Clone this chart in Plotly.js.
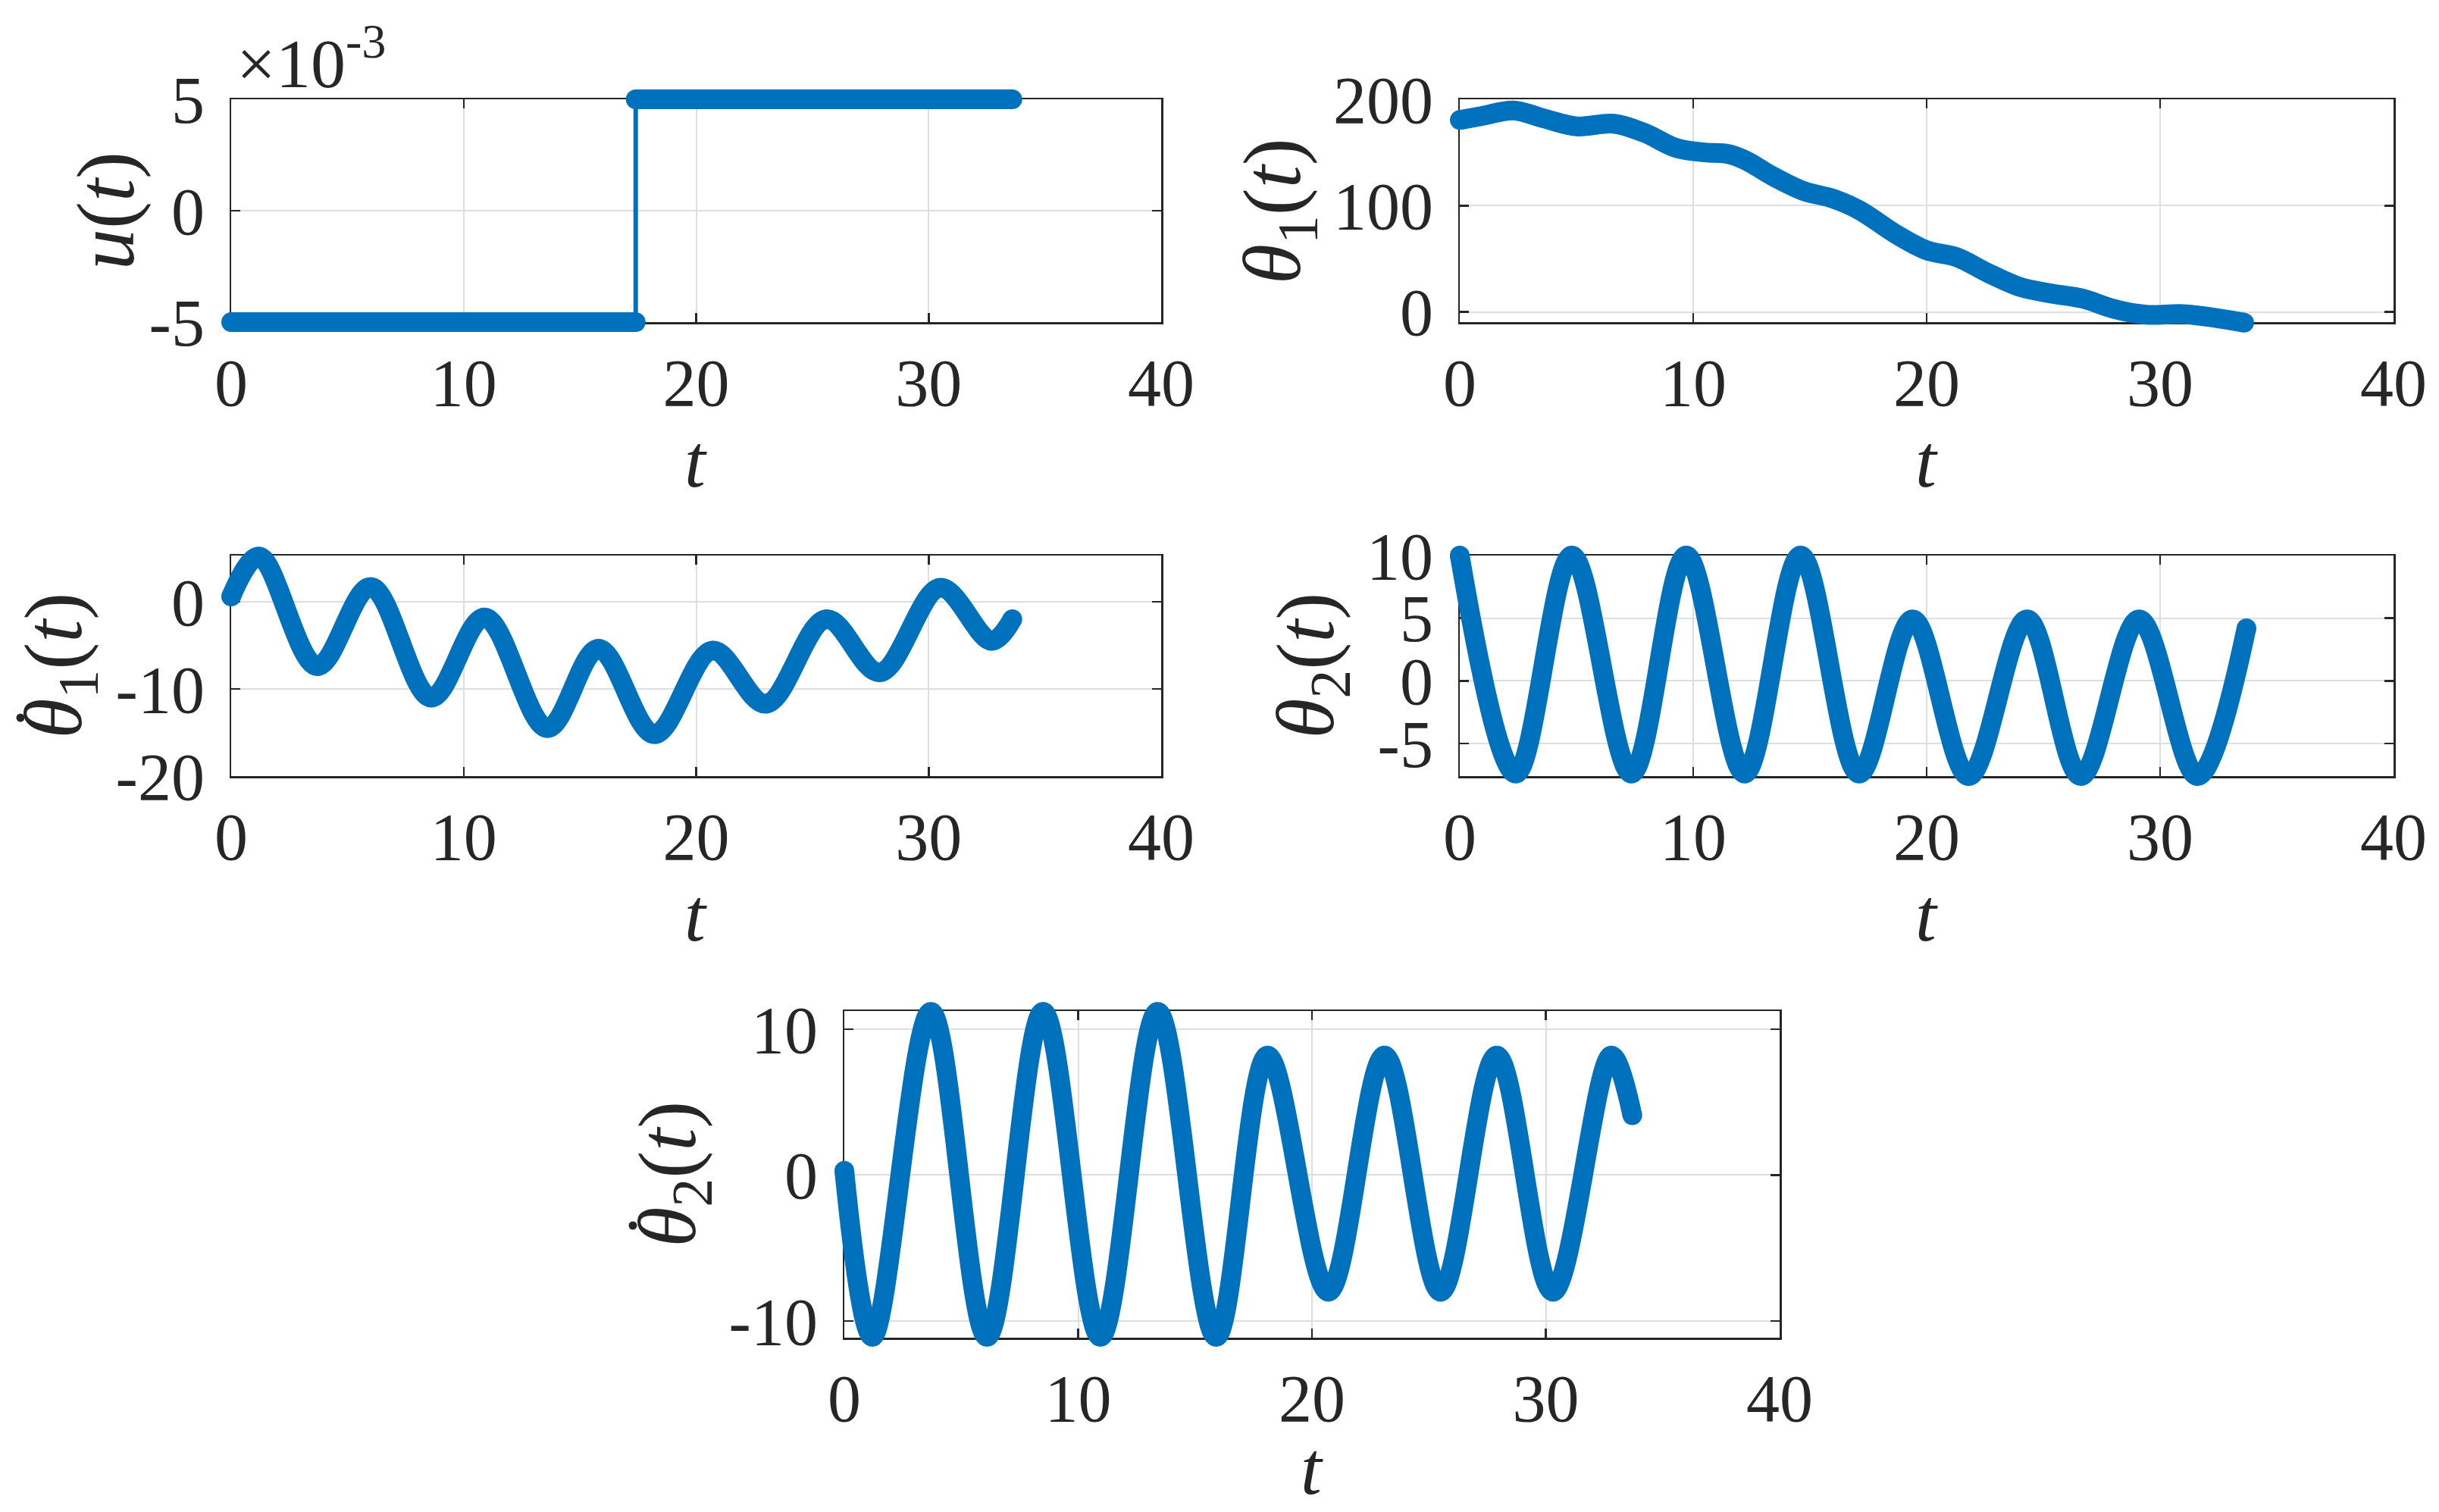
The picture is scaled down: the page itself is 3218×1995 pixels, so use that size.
<!DOCTYPE html>
<html><head><meta charset="utf-8">
<script src="https://cdn.plot.ly/plotly-3.0.1.min.js"></script>
<style>html,body{margin:0;padding:0;background:#fff;} #chart{width:3218px;height:1995px;}</style>
</head><body><div id="chart"></div>
<script>
// ---------------- data ----------------
const tU   = [0, 17.4, 17.4, 33.6];
const uVal = [-0.005, -0.005, 0.005, 0.005];

const tTheta1 = [0, 1, 2.3, 3.6, 5.0, 6.6, 7.9, 9.3, 10.5, 11.5, 12.3, 13.3, 14.7, 16.0, 17.1, 18.7, 20.0, 21.3, 22.6, 24.0, 25.3, 26.7, 28.0, 29.4, 31.0, 32.5, 33.6];
const theta1  = [180.5, 184.5, 189.5, 182, 174.5, 177, 168.5, 154, 150, 148.5, 142, 129, 114, 106.5, 96, 73, 58, 51.5, 37, 23.5, 17.5, 12.5, 3, -2.5, -2, -6, -10];

// start, successive peaks / troughs, end
const tDTheta1 = [0, 1.2, 3.7, 6.0, 8.6, 10.9, 13.6, 15.8, 18.2, 20.7, 23.0, 25.6, 27.9, 30.5, 32.7, 33.6];
const dTheta1  = [0.6, 5.2, -7.4, 1.7, -11.0, -1.8, -14.5, -5.4, -15.2, -5.6, -11.7, -2.0, -8.1, 1.6, -4.5, -2.0];

const tTheta2 = [0, 2.4, 4.8, 7.35, 9.7, 12.2, 14.6, 17.1, 19.4, 21.8, 24.3, 26.6, 29.1, 31.6, 33.7];
const theta2  = [10, -7.4, 10, -7.4, 10, -7.4, 10, -7.4, 4.9, -7.6, 4.9, -7.6, 4.9, -7.6, 4.2];

const tDTheta2 = [0, 1.2, 3.7, 6.1, 8.5, 10.95, 13.4, 15.9, 18.1, 20.7, 23.1, 25.5, 27.9, 30.3, 32.8, 33.7];
const dTheta2  = [0.3, -11.1, 11.2, -11.1, 11.2, -11.1, 11.2, -11.1, 8.2, -8.0, 8.2, -8.0, 8.2, -8.0, 8.2, 4.1];

// tick values / labels
const xTicks    = [0, 10, 20, 30, 40];
const xTickText = ['0', '10', '20', '30', '40'];
const uTicks    = [-0.005, 0, 0.005];   const uTickText    = ['-5', '0', '5'];
const th1Ticks  = [0, 100, 200];        const th1TickText  = ['0', '100', '200'];
const dth1Ticks = [-20, -10, 0];        const dth1TickText = ['-20', '-10', '0'];
const th2Ticks  = [-5, 0, 5, 10];       const th2TickText  = ['-5', '0', '5', '10'];
const dth2Ticks = [-10, 0, 10];         const dth2TickText = ['-10', '0', '10'];

const yLabels = ['<i>u</i>(<i>t</i>)', '<i>θ</i><sub>1</sub>(<i>t</i>)', '<i>θ</i><sub>1</sub>(<i>t</i>)', '<i>θ</i><sub>2</sub>(<i>t</i>)', '<i>θ</i><sub>2</sub>(<i>t</i>)'];
const xLabel = '<i>t</i>';
const expLabel = '×10<sup>-3</sup>';

// ---------------- layout / styling ----------------
const W = 3218, H = 1995;
const BLUE = '#0072BD';
const FONT = 'Liberation Serif, Times New Roman, serif';
const TXT = '#262626';

// pixel boxes [left, right, top, bottom]; ylx = y-label centre; dot = derivative dot centre
const panels = [
  {box: [305, 1532, 131, 425],   xr: [0, 40], yr: [-0.005, 0.005],  tv: uTicks,    tt: uTickText,    ylx: 140,  dot: null},
  {box: [1926, 3158, 131, 425],  xr: [0, 40], yr: [-9.5, 200],      tv: th1Ticks,  tt: th1TickText,  ylx: 1686, dot: null},
  {box: [305, 1532, 733, 1024],  xr: [0, 40], yr: [-20, 5.3],       tv: dth1Ticks, tt: dth1TickText, ylx: 78,   dot: [27, 947]},
  {box: [1926, 3158, 733, 1024], xr: [0, 40], yr: [-7.6, 10],       tv: th2Ticks,  tt: th2TickText,  ylx: 1730, dot: null},
  {box: [1114, 2348, 1334, 1765],xr: [0, 40], yr: [-11.15, 11.25], tv: dth2Ticks, tt: dth2TickText, ylx: 888,  dot: [835, 1617]}
];

const layout = {
  width: W, height: H,
  margin: {l: 0, r: 0, t: 0, b: 0, pad: 0},
  paper_bgcolor: '#ffffff',
  plot_bgcolor: 'rgba(0,0,0,0)',
  showlegend: false,
  font: {family: FONT, color: TXT},
  annotations: [],
  shapes: []
};

const PAD = 50;
panels.forEach((p, i) => {
  const k = i + 1, d = i + 6;
  const [l, r, t, b] = p.box;
  const common = {
    showgrid: true, gridcolor: '#dedede', gridwidth: 2,
    showline: true, linecolor: TXT, linewidth: 2.5, mirror: 'ticks',
    ticks: 'inside', ticklen: 12, tickwidth: 2.5, tickcolor: TXT,
    tickfont: {family: FONT, size: 88, color: TXT},
    zeroline: false, fixedrange: true, tickmode: 'array'
  };
  layout['xaxis' + k] = Object.assign({}, common, {
    domain: [l / W, r / W], range: p.xr, anchor: 'y' + k,
    tickvals: xTicks, ticktext: xTickText, ticklabelstandoff: 2
  });
  layout['yaxis' + k] = Object.assign({}, common, {
    domain: [1 - b / H, 1 - t / H], range: p.yr, anchor: 'x' + k,
    tickvals: p.tv, ticktext: p.tt, ticklabelstandoff: 15
  });
  const sx = (p.xr[1] - p.xr[0]) / (r - l);
  const sy = (p.yr[1] - p.yr[0]) / (b - t);
  const rr = Math.min(W, r + PAD);
  layout['xaxis' + d] = {visible: false, fixedrange: true, anchor: 'y' + d,
    domain: [(l - PAD) / W, rr / W],
    range: [p.xr[0] - PAD * sx, p.xr[1] + (rr - r) * sx]};
  layout['yaxis' + d] = {visible: false, fixedrange: true, anchor: 'x' + d,
    domain: [1 - (b + PAD) / H, 1 - (t - PAD) / H],
    range: [p.yr[0] - PAD * sy, p.yr[1] + PAD * sy]};

  // x label
  const lastRow = (i === 4);
  layout.annotations.push({xref: 'paper', yref: 'paper', x: (l + r) / 2 / W,
    y: lastRow ? 0 : 1 - (b + 183) / H,
    xanchor: 'center', yanchor: lastRow ? 'bottom' : 'middle', showarrow: false, text: xLabel,
    font: {family: FONT, size: 100, color: TXT}});
  // y label
  layout.annotations.push({xref: 'paper', yref: 'paper', x: p.ylx / W, y: 1 - (t + b) / 2 / H,
    xanchor: 'center', yanchor: 'middle', showarrow: false, text: yLabels[i], textangle: -90,
    font: {family: FONT, size: 108, color: TXT}});
  // derivative dot over theta
  if (p.dot) {
    const rad = 5.5;
    layout.shapes.push({type: 'circle', xref: 'paper', yref: 'paper',
      x0: (p.dot[0] - rad) / W, x1: (p.dot[0] + rad) / W,
      y0: 1 - (p.dot[1] + rad) / H, y1: 1 - (p.dot[1] - rad) / H,
      fillcolor: TXT, line: {width: 0}});
  }
});

layout.annotations.push({xref: 'paper', yref: 'paper', x: 310 / W, y: 1 - 137 / H,
  xanchor: 'left', yanchor: 'bottom', showarrow: false, text: expLabel,
  font: {family: FONT, size: 92, color: TXT}});

function curve(tArr, yArr, k) {
  return [
    {x: tArr, y: yArr, xaxis: 'x' + k, yaxis: 'y' + k, mode: 'lines',
     line: {color: BLUE, width: 26, shape: 'spline', smoothing: 1}, hoverinfo: 'skip'},
    {x: [tArr[0], tArr[tArr.length - 1]], y: [yArr[0], yArr[yArr.length - 1]], xaxis: 'x' + k, yaxis: 'y' + k,
     mode: 'markers', marker: {color: BLUE, size: 26}, hoverinfo: 'skip', cliponaxis: false}
  ];
}

const data = [];
// u(t): thin step line + thick constant segments
data.push({x: tU, y: uVal, xaxis: 'x6', yaxis: 'y6', mode: 'lines',
  line: {color: BLUE, width: 6}, hoverinfo: 'skip'});
data.push({x: [tU[0], tU[1], null, tU[2], tU[3]], y: [uVal[0], uVal[1], null, uVal[2], uVal[3]],
  xaxis: 'x6', yaxis: 'y6', mode: 'lines+markers', connectgaps: false,
  line: {color: BLUE, width: 26}, marker: {color: BLUE, size: 26}, hoverinfo: 'skip', cliponaxis: false});
data.push(...curve(tTheta1, theta1, 7));
data.push(...curve(tDTheta1, dTheta1, 8));
data.push(...curve(tTheta2, theta2, 9));
data.push(...curve(tDTheta2, dTheta2, 10));
// placeholder traces so the boxed axes exist
for (let k = 1; k <= 5; k++) data.push({x: [null], y: [null], xaxis: 'x' + k, yaxis: 'y' + k, mode: 'lines', hoverinfo: 'skip'});

Plotly.newPlot('chart', data, layout, {staticPlot: true, displayModeBar: false});
</script>
</body></html>
